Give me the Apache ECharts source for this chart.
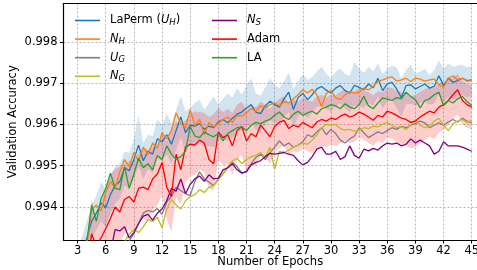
<!DOCTYPE html>
<html>
<head>
<meta charset="utf-8">
<script src="https://cdn.jsdelivr.net/npm/echarts@6/dist/echarts.min.js"></script>
<style>
	html, body { margin: 0; padding: 0; background: #fff; }
	#chart { width: 477px; height: 270px; }
</style>
</head>
<body>
<div id="chart"></div>
<script>
// epochs, half-epoch steps
const epochs = [
	3, 3.5, 4, 4.5, 5, 5.5, 6, 6.5, 7, 7.5,
	8, 8.5, 9, 9.5, 10, 10.5, 11, 11.5, 12, 12.5,
	13, 13.5, 14, 14.5, 15, 15.5, 16, 16.5, 17, 17.5,
	18, 18.5, 19, 19.5, 20, 20.5, 21, 21.5, 22, 22.5,
	23, 23.5, 24, 24.5, 25, 25.5, 26, 26.5, 27, 27.5,
	28, 28.5, 29, 29.5, 30, 30.5, 31, 31.5, 32, 32.5,
	33, 33.5, 34, 34.5, 35, 35.5, 36, 36.5, 37, 37.5,
	38, 38.5, 39, 39.5, 40, 40.5, 41, 41.5, 42, 42.5,
	43, 43.5, 44, 44.5, 45,
]

const laperm = [
	0.9926, 0.9929, 0.99325, 0.99365, 0.99385, 0.9941, 0.99398, 0.9943, 0.99452, 0.99462,
	0.99495, 0.99488, 0.99515, 0.9955, 0.99512, 0.99535, 0.99528, 0.99565, 0.99558, 0.99575,
	0.99552, 0.99585, 0.99618, 0.9958, 0.99598, 0.99596, 0.99602, 0.99588, 0.99596, 0.99592,
	0.99606, 0.99612, 0.99604, 0.99615, 0.99625, 0.9963, 0.9964, 0.99648, 0.9963, 0.99626,
	0.99645, 0.99656, 0.99648, 0.99642, 0.99662, 0.99678, 0.99636, 0.99665, 0.99675, 0.9966,
	0.99672, 0.99686, 0.99692, 0.99683, 0.99676, 0.99688, 0.99694, 0.99682, 0.99676, 0.99695,
	0.9969, 0.99684, 0.99698, 0.99689, 0.99712, 0.99682, 0.99698, 0.99702, 0.99686, 0.99665,
	0.99694, 0.99696, 0.99686, 0.99692, 0.99698, 0.99688, 0.99692, 0.99718, 0.99694, 0.99712,
	0.99702, 0.99706, 0.99712, 0.99706, 0.99708,
]
const lapermUpper = [
	0.993, 0.9933, 0.99368, 0.99405, 0.99428, 0.9946, 0.99445, 0.99478, 0.99498, 0.99505,
	0.99535, 0.9953, 0.99565, 0.99622, 0.99555, 0.99575, 0.99572, 0.99612, 0.99598, 0.99625,
	0.99602, 0.99635, 0.99668, 0.99632, 0.9964, 0.99652, 0.9966, 0.99635, 0.99652, 0.99668,
	0.99648, 0.99662, 0.99675, 0.99665, 0.99688, 0.99672, 0.99695, 0.99712, 0.99675, 0.9967,
	0.9969, 0.99712, 0.99695, 0.99688, 0.99705, 0.99725, 0.99685, 0.99705, 0.99722, 0.99708,
	0.99715, 0.99728, 0.9974, 0.99722, 0.99712, 0.99728, 0.99735, 0.99722, 0.99718, 0.99752,
	0.99735, 0.99725, 0.9974, 0.99728, 0.99748, 0.99722, 0.99735, 0.99742, 0.99738, 0.99712,
	0.99732, 0.99745, 0.99722, 0.99728, 0.99735, 0.9972, 0.99732, 0.99755, 0.99735, 0.99748,
	0.9974, 0.99742, 0.99745, 0.99738, 0.99742,
]
const lapermLower = [
	0.9922, 0.9925, 0.99285, 0.99325, 0.99345, 0.99365, 0.99352, 0.99385, 0.99408, 0.9942,
	0.99452, 0.99445, 0.99468, 0.99498, 0.99468, 0.99492, 0.99482, 0.99518, 0.99512, 0.99528,
	0.99505, 0.99538, 0.99568, 0.99532, 0.99552, 0.99548, 0.99555, 0.99545, 0.99548, 0.99545,
	0.99562, 0.99565, 0.9956, 0.99568, 0.99578, 0.99585, 0.99592, 0.99602, 0.99588, 0.99582,
	0.996, 0.9961, 0.99602, 0.99598, 0.99618, 0.9963, 0.99592, 0.9962, 0.99628, 0.99615,
	0.99628, 0.99642, 0.99645, 0.99638, 0.9963, 0.99645, 0.9965, 0.99638, 0.9963, 0.99645,
	0.99645, 0.9964, 0.99652, 0.99645, 0.99668, 0.99638, 0.99655, 0.99658, 0.9964, 0.99618,
	0.99648, 0.9965, 0.99645, 0.99652, 0.99655, 0.99648, 0.9965, 0.99675, 0.99652, 0.99668,
	0.9966, 0.99665, 0.99672, 0.99665, 0.99668,
]
const nH = [
	0.9925, 0.9928, 0.9931, 0.99392, 0.99405, 0.9939, 0.99435, 0.99462, 0.99445, 0.99485,
	0.99515, 0.99498, 0.99532, 0.99512, 0.99545, 0.99528, 0.99555, 0.99542, 0.9958, 0.99565,
	0.99585, 0.99628, 0.99602, 0.99592, 0.99635, 0.99598, 0.99612, 0.99575, 0.99605, 0.99594,
	0.99602, 0.99612, 0.99618, 0.99605, 0.99622, 0.9962, 0.99628, 0.99638, 0.99632, 0.99645,
	0.9964, 0.99648, 0.99652, 0.99645, 0.99655, 0.99652, 0.99662, 0.99672, 0.99684, 0.99676,
	0.99685, 0.99672, 0.99643, 0.99675, 0.99682, 0.99665, 0.9966, 0.99672, 0.9968, 0.99676,
	0.99678, 0.99688, 0.99684, 0.99692, 0.99704, 0.99708, 0.99712, 0.99715, 0.99705, 0.99708,
	0.99712, 0.99704, 0.99712, 0.9971, 0.99705, 0.99708, 0.9971, 0.99696, 0.9969, 0.99712,
	0.99718, 0.99708, 0.99712, 0.99705, 0.99706,
]
const uG = [
	0.9915, 0.9917, 0.9919, 0.992, 0.9922, 0.9923, 0.9925, 0.9926, 0.99275, 0.9929,
	0.99305, 0.99318, 0.99335, 0.9936, 0.99385, 0.99392, 0.99388, 0.99396, 0.99382, 0.99412,
	0.99425, 0.99448, 0.9944, 0.99432, 0.99428, 0.99462, 0.99485, 0.99468, 0.9946, 0.99452,
	0.99468, 0.9948, 0.99495, 0.99508, 0.99498, 0.99482, 0.99485, 0.99505, 0.9952, 0.99528,
	0.99515, 0.99532, 0.99545, 0.9956, 0.99548, 0.99555, 0.99545, 0.9955, 0.99558, 0.99575,
	0.9957, 0.99582, 0.99592, 0.99575, 0.99588, 0.99578, 0.99562, 0.99555, 0.99565, 0.99572,
	0.99592, 0.9958, 0.99568, 0.99575, 0.99582, 0.99578, 0.99585, 0.99592, 0.99588, 0.99595,
	0.99592, 0.99598, 0.99602, 0.99608, 0.99604, 0.99592, 0.99598, 0.99604, 0.99598, 0.99606,
	0.99612, 0.99606, 0.99615, 0.99608, 0.99604,
]
const nG = [
	0.991, 0.9912, 0.9914, 0.9916, 0.9918, 0.992, 0.9922, 0.9924, 0.9926, 0.9928,
	0.99315, 0.99335, 0.99345, 0.99338, 0.99352, 0.9937, 0.99365, 0.99375, 0.9935, 0.99395,
	0.99418, 0.99405, 0.99395, 0.99415, 0.99425, 0.9943, 0.99442, 0.99435, 0.99448, 0.99452,
	0.99465, 0.9948, 0.99498, 0.99512, 0.99518, 0.99505, 0.99515, 0.99522, 0.99525, 0.99532,
	0.9952, 0.99545, 0.99492, 0.99535, 0.99532, 0.99538, 0.99545, 0.9955, 0.99555, 0.99552,
	0.99562, 0.99575, 0.99592, 0.996, 0.99598, 0.996, 0.9959, 0.99586, 0.99588, 0.99584,
	0.99586, 0.99592, 0.9959, 0.99596, 0.99594, 0.996, 0.99605, 0.99598, 0.99592, 0.99595,
	0.99588, 0.99598, 0.99612, 0.99598, 0.99592, 0.99596, 0.99608, 0.99615, 0.99598, 0.99585,
	0.99602, 0.99608, 0.99612, 0.99605, 0.9961,
]
const nS = [
	0.9912, 0.9914, 0.9916, 0.9918, 0.992, 0.9922, 0.9925, 0.9929, 0.99345, 0.99342,
	0.99352, 0.99325, 0.99338, 0.9936, 0.99378, 0.99382, 0.99368, 0.99385, 0.99395, 0.99415,
	0.99445, 0.99438, 0.99468, 0.99432, 0.99455, 0.99468, 0.99475, 0.99462, 0.99478, 0.99468,
	0.9947, 0.9949, 0.99495, 0.99505, 0.9949, 0.99482, 0.99486, 0.99502, 0.99508, 0.99512,
	0.99522, 0.9953, 0.99528, 0.9953, 0.99532, 0.99528, 0.99525, 0.99512, 0.99502, 0.99508,
	0.99522, 0.9954, 0.99545, 0.99528, 0.99528, 0.99535, 0.99515, 0.99522, 0.99548, 0.99525,
	0.99518, 0.9954, 0.99536, 0.99542, 0.99538, 0.99548, 0.99555, 0.99552, 0.99555, 0.99548,
	0.99552, 0.99565, 0.99555, 0.99562, 0.99555, 0.99548, 0.99528, 0.99535, 0.99558, 0.99548,
	0.99548, 0.99548, 0.99545, 0.9954, 0.99535,
]
const adam = [
	0.9915, 0.9919, 0.9925, 0.99335, 0.99305, 0.99325, 0.99348, 0.99372, 0.994, 0.99388,
	0.99418, 0.99425, 0.99412, 0.99445, 0.99448, 0.99442, 0.99468, 0.9948, 0.99508, 0.99448,
	0.99425, 0.99528, 0.9949, 0.99545, 0.99552, 0.9955, 0.99562, 0.99555, 0.99515, 0.99505,
	0.99582, 0.99568, 0.99575, 0.99548, 0.99585, 0.99595, 0.9956, 0.99578, 0.9957, 0.99598,
	0.99585, 0.9957, 0.99595, 0.99605, 0.9961, 0.9959, 0.99598, 0.99594, 0.99605, 0.99598,
	0.99592, 0.99606, 0.99612, 0.99608, 0.99615, 0.99612, 0.9962, 0.99625, 0.99618, 0.99622,
	0.9963, 0.99625, 0.99618, 0.9961, 0.99622, 0.99618, 0.99632, 0.99628, 0.99622, 0.99615,
	0.99612, 0.99605, 0.99608, 0.99618, 0.99625, 0.99632, 0.99628, 0.99642, 0.99648, 0.99658,
	0.99672, 0.99684, 0.99658, 0.99648, 0.99642,
]
const adamUpper = [
	0.9922, 0.9926, 0.9932, 0.9942, 0.99375, 0.9941, 0.99445, 0.99478, 0.99492, 0.99498,
	0.99505, 0.99512, 0.9951, 0.9953, 0.99545, 0.99538, 0.99548, 0.99552, 0.9958, 0.9956,
	0.99592, 0.99608, 0.99598, 0.9961, 0.99625, 0.99632, 0.9963, 0.99628, 0.99618, 0.99625,
	0.9964, 0.9963, 0.99638, 0.99628, 0.99648, 0.99655, 0.99635, 0.99645, 0.99642, 0.99655,
	0.99648, 0.99638, 0.99652, 0.99662, 0.99668, 0.99652, 0.99662, 0.99655, 0.99665, 0.9966,
	0.99655, 0.99668, 0.99672, 0.99665, 0.99672, 0.9967, 0.9968, 0.99685, 0.99678, 0.9968,
	0.99688, 0.99682, 0.99678, 0.9967, 0.9968, 0.99678, 0.9969, 0.99688, 0.99682, 0.99678,
	0.99675, 0.99668, 0.99672, 0.9968, 0.99685, 0.99692, 0.99688, 0.997, 0.99702, 0.9971,
	0.99715, 0.99722, 0.99705, 0.99698, 0.99695,
]
const adamLower = [
	0.9908, 0.9912, 0.9918, 0.9925, 0.9923, 0.9924, 0.99255, 0.9928, 0.9931, 0.9931,
	0.99335, 0.99345, 0.99335, 0.99365, 0.99372, 0.99365, 0.99392, 0.99405, 0.9943, 0.9937,
	0.9934, 0.99425, 0.99405, 0.9946, 0.99475, 0.99478, 0.9949, 0.99485, 0.99445, 0.9944,
	0.99515, 0.995, 0.99505, 0.99478, 0.99515, 0.99525, 0.99488, 0.99505, 0.99498, 0.99525,
	0.9952, 0.99505, 0.99532, 0.99542, 0.99548, 0.99528, 0.99535, 0.99532, 0.99542, 0.99535,
	0.9953, 0.99542, 0.99548, 0.99545, 0.99552, 0.99548, 0.99555, 0.9956, 0.99555, 0.99558,
	0.99568, 0.99562, 0.99555, 0.99548, 0.9956, 0.99555, 0.99568, 0.99565, 0.99558, 0.9955,
	0.99548, 0.99542, 0.99545, 0.99555, 0.99562, 0.9957, 0.99565, 0.9958, 0.99588, 0.99598,
	0.99612, 0.99625, 0.996, 0.99592, 0.99588,
]
const la = [
	0.9926, 0.9929, 0.99318, 0.99405, 0.99365, 0.9942, 0.99445, 0.99482, 0.99445, 0.99442,
	0.99498, 0.99445, 0.9948, 0.99518, 0.99495, 0.99505, 0.9949, 0.99525, 0.99515, 0.99548,
	0.99528, 0.99515, 0.99522, 0.99535, 0.99595, 0.99572, 0.99568, 0.99582, 0.99575, 0.9957,
	0.99578, 0.9956, 0.99578, 0.99585, 0.99592, 0.99594, 0.99585, 0.99598, 0.99605, 0.99602,
	0.99608, 0.99612, 0.99622, 0.9963, 0.99618, 0.99612, 0.99625, 0.99632, 0.99622, 0.99628,
	0.99632, 0.99625, 0.99638, 0.99642, 0.99648, 0.99645, 0.99638, 0.9965, 0.99642, 0.99638,
	0.99648, 0.99668, 0.99645, 0.99638, 0.99652, 0.99664, 0.99662, 0.99658, 0.99665, 0.99662,
	0.99678, 0.99668, 0.9966, 0.9964, 0.99658, 0.99662, 0.99672, 0.99678, 0.99645, 0.99658,
	0.99652, 0.99662, 0.99668, 0.99655, 0.99646,
]

const names = ['LaPerm (UH)', 'NH', 'UG', 'NG', 'NS', 'Adam', 'LA']
const colors = ['#1f77b4', '#ff7f0e', '#7f7f7f', '#bcbd22', '#800080', '#ff0000', '#2ca02c']

const FONT = 'DejaVu Sans'

// legend labels with italic math and subscripts, {g|} is a small spacer after the handle
const legendLabel = {
	'LaPerm (UH)': '{g|}LaPerm ({i|U}{s|H})',
	NH: '{g|}{i|N}{s|H}',
	UG: '{g|}{i|U}{s|G}',
	NG: '{g|}{i|N}{s|G}',
	NS: '{g|}{i|N}{s|S}',
	Adam: '{g|}Adam',
	LA: '{g|}LA',
}

const pairs = (ys) => epochs.map((x, i) => [x, ys[i]])

const lineSeries = (name, ys, color, z) => ({
	name: name,
	type: 'line',
	data: pairs(ys),
	showSymbol: false,
	symbol: 'none',
	lineStyle: { color: color, width: 1.3 },
	itemStyle: { color: color },
	z: z,
	animation: false,
})

// shaded band between lower and upper, drawn as one polygon
const bandSeries = (lo, hi, color, z) => ({
	type: 'custom',
	data: epochs.map((x, i) => [x, lo[i], hi[i]]),
	encode: { x: 0, y: [1, 2] },
	clip: true,
	silent: true,
	animation: false,
	z: z,
	renderItem: (params, api) => {
		if (params.dataIndex !== 0) return
		const top = epochs.map((x, i) => api.coord([x, hi[i]]))
		const bottom = epochs.map((x, i) => api.coord([x, lo[i]])).reverse()
		return {
			type: 'polygon',
			shape: { points: top.concat(bottom) },
			style: { fill: color },
		}
	},
})

const legendStyle = {
	fontFamily: FONT,
	fontSize: 11.5,
	color: '#000',
	lineHeight: 14,
	rich: {
		g: { width: 5, lineHeight: 14 },
		i: { fontFamily: FONT, fontSize: 11.5, fontStyle: 'italic', color: '#000', lineHeight: 14 },
		s: { fontFamily: FONT, fontSize: 8.5, fontStyle: 'italic', color: '#000', lineHeight: 14, verticalAlign: 'bottom', padding: [4, 0, 0, 0] },
	},
}

const legendBase = {
	orient: 'vertical',
	icon: 'rect',
	itemWidth: 25,
	itemHeight: 1.6,
	itemGap: 4.6,
	padding: 0,
	textStyle: legendStyle,
	formatter: (name) => legendLabel[name],
	selectedMode: false,
}

const chart = echarts.init(document.getElementById('chart'), null, { renderer: 'canvas' })

const option = {
	backgroundColor: '#fff',
	animation: false,
	grid: { left: 63.5, right: 0, top: 3.5, bottom: 30, containLabel: false, outerBoundsMode: 'none' },
	legend: [
		Object.assign({}, legendBase, { data: names.slice(0, 4), left: 75, top: 13.5 }),
		Object.assign({}, legendBase, { data: names.slice(4), left: 212, top: 13.5 }),
	],
	xAxis: [
		{
			type: 'value',
			min: 1.5,
			max: 45.56,
			minInterval: 3,
			maxInterval: 3,
			name: 'Number of Epochs',
			nameLocation: 'middle',
			nameGap: 16,
			nameMoveOverlap: false,
			nameTextStyle: { fontFamily: FONT, fontSize: 11.5, color: '#000' },
			axisLine: { show: true, onZero: false, lineStyle: { color: '#000', width: 1.2 } },
			axisTick: { show: true, length: 3.5, lineStyle: { color: '#000', width: 1 } },
			axisLabel: { fontFamily: FONT, fontSize: 11.5, color: '#000', margin: 5, showMinLabel: false, showMaxLabel: false },
			splitLine: { show: true, showMinLine: false, showMaxLine: false, lineStyle: { color: '#b0b0b0', width: 0.9, type: [2, 2] } },
		},
		{
			type: 'value',
			position: 'top',
			min: 1.5,
			max: 45.56,
			axisLine: { show: true, onZero: false, lineStyle: { color: '#000', width: 1.2 } },
			axisTick: { show: false },
			axisLabel: { show: false },
			splitLine: { show: false },
		},
	],
	yAxis: {
		type: 'value',
		min: 0.9932,
		max: 0.99893,
		minInterval: 0.001,
		maxInterval: 0.001,
		name: 'Validation Accuracy',
		nameLocation: 'middle',
		nameGap: 44,
		nameMoveOverlap: false,
		nameTextStyle: { fontFamily: FONT, fontSize: 11.5, color: '#000' },
		axisLine: { show: true, onZero: false, lineStyle: { color: '#000', width: 1.2 } },
		axisTick: { show: true, length: 3.5, lineStyle: { color: '#000', width: 1 } },
		axisLabel: {
			fontFamily: FONT,
			fontSize: 11.5,
			color: '#000',
			margin: 6,
			showMinLabel: false,
			showMaxLabel: false,
			formatter: (v) => v.toFixed(3),
		},
		splitLine: { show: true, showMinLine: false, showMaxLine: false, lineStyle: { color: '#b0b0b0', width: 0.9, type: [2, 2] } },
	},
	series: [
		bandSeries(lapermLower, lapermUpper, 'rgba(31,119,180,0.2)', 1),
		lineSeries(names[0], laperm, colors[0], 2),
		lineSeries(names[1], nH, colors[1], 2),
		lineSeries(names[2], uG, colors[2], 2),
		lineSeries(names[3], nG, colors[3], 2),
		lineSeries(names[4], nS, colors[4], 2),
		bandSeries(adamLower, adamUpper, 'rgba(255,0,0,0.2)', 2),
		lineSeries(names[5], adam, colors[5], 3),
		lineSeries(names[6], la, colors[6], 3),
	],
}

chart.setOption(option)
</script>
</body>
</html>
